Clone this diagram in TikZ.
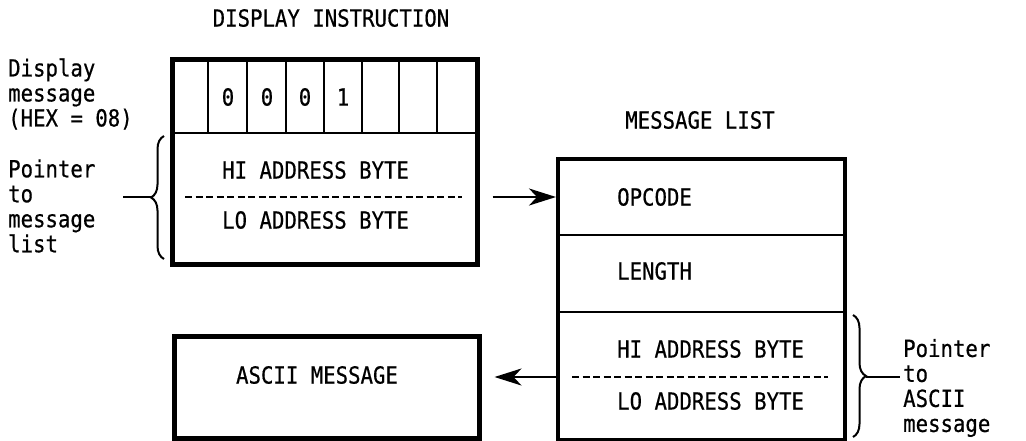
\documentclass[tikz,border=0pt]{standalone}
\usepackage{fontspec}
\newfontfamily\monofnt[FakeStretch=0.88,FakeBold=0.6]{DejaVu Sans Mono}
\usetikzlibrary{arrows.meta,decorations.pathreplacing}
\tikzset{
  txt/.style={inner sep=0pt, font=\monofnt\fontsize{23.5}{25}\selectfont},
  multi/.style={txt, align=left},
  thickbox/.style={draw, line width=4.5pt, inner sep=0pt, anchor=north west},
  thin/.style={line width=2.5pt},
  dashline/.style={line width=2.5pt, dash pattern=on 7pt off 3.5pt},
  conn/.style={line width=2.5pt, -{Stealth[length=27pt,width=17pt,inset=8pt]}},
  bracestyle/.style={line width=2pt, decorate, decoration={brace, amplitude=13pt}},
}
\begin{document}
\begin{tikzpicture}[x=1pt,y=-1pt]
\useasboundingbox (0,0) rectangle (1026,440);

% Display instruction
\node[txt] (title1) at (331,18) {DISPLAY INSTRUCTION};
\node[thickbox, minimum width=305pt, minimum height=205pt] (di) at (170,57) {};
\draw[thin] (170,133) -- (475,133);
\foreach \x in {208,247,286,324,362,399,437} \draw[thin] (\x,57) -- (\x,133);
\node[txt] (b1) at (228,97) {0};
\node[txt] (b2) at (267,97) {0};
\node[txt] (b3) at (305,97) {0};
\node[txt] (b4) at (343,97) {1};
\node[txt, anchor=west] (hi1) at (222,170) {HI ADDRESS BYTE};
\coordinate (d1l) at (185,197);
\coordinate (d1r) at (462,197);
\draw[dashline] (d1l) -- (d1r);
\node[txt, anchor=west] (lo1) at (222,220) {LO ADDRESS BYTE};

\node[multi, anchor=west] (lab1) at (8,94) {Display\\message\\(HEX = 08)};
\node[multi, anchor=west] (lab2) at (8,206) {Pointer\\to\\message\\list};
\coordinate (br1b) at (164,259);
\coordinate (br1t) at (164,136);
\draw[bracestyle] (br1b) -- (br1t);
\coordinate (br1tip) at (151,197);
\coordinate (br1end) at (123,197);
\draw[line width=2.5pt] (br1end) -- (br1tip);

% Message list
\node[txt] (title2) at (700,120) {MESSAGE LIST};
\node[thickbox, line width=4pt, minimum width=287pt, minimum height=281pt] (ml) at (556,157) {};
\draw[thin] (556,235) -- (843,235);
\draw[thin] (556,312) -- (843,312);
\node[txt, anchor=west] (op) at (617,197) {OPCODE};
\node[txt, anchor=west] (len) at (617,271) {LENGTH};
\node[txt, anchor=west] (hi2) at (617,349) {HI ADDRESS BYTE};
\coordinate (d2l) at (572,377);
\coordinate (d2r) at (828,377);
\draw[dashline] (d2l) -- (d2r);
\node[txt, anchor=west] (lo2) at (617,401) {LO ADDRESS BYTE};

\coordinate (br2t) at (853,315);
\coordinate (br2b) at (853,437);
\draw[bracestyle] (br2t) -- (br2b);
\coordinate (br2tip) at (866,377);
\coordinate (br2end) at (900,377);
\draw[line width=2.5pt] (br2tip) -- (br2end);
\node[multi, anchor=west] (lab3) at (903,388) {Pointer\\to\\ASCII\\message};

% ASCII message
\node[thickbox, minimum width=305pt, minimum height=102pt] (am) at (172,334) {};
\node[txt] (amt) at (317,375) {ASCII MESSAGE};

% connectors
\draw[conn, shorten <=13pt] (di.east |- d1l) -- (ml.west |- d1l);
\draw[conn, shorten >=13pt] (ml.west |- d2l) -- (am.east |- d2l);
\end{tikzpicture}
\end{document}
